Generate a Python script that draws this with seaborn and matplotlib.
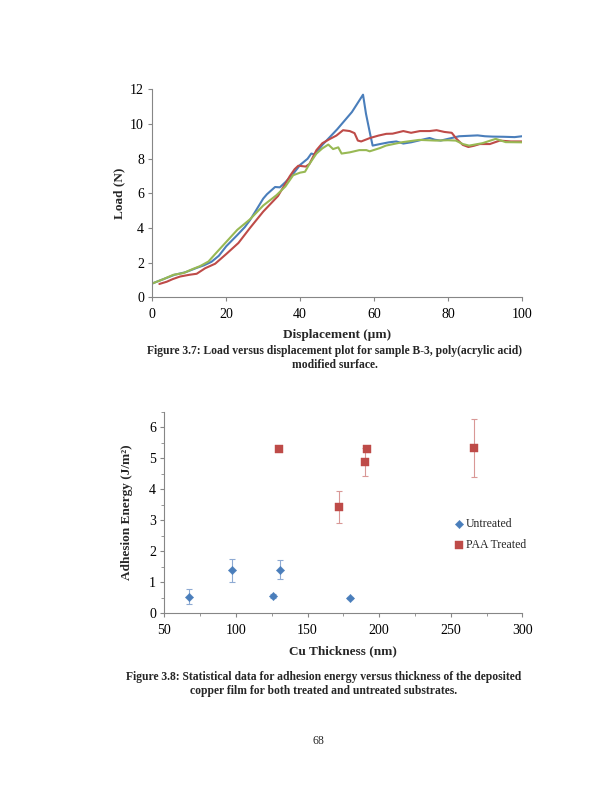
import matplotlib
matplotlib.use("Agg")
import matplotlib.pyplot as plt
from matplotlib.ticker import MultipleLocator
import seaborn as sns
import pandas as pd

# Figure 3.7 load vs displacement, three runs
blue_x = [0, 3, 6, 9, 12, 14, 16, 18, 20, 23, 25, 26.4, 28, 30, 31, 33.2, 34.5, 36, 38, 40, 42,
          43, 44, 46, 50, 54, 57, 57.8, 58.9, 59.6, 61.6, 64, 66, 67.9, 70, 73, 75, 76.4, 78, 80,
          83, 86, 88, 90, 92, 95, 98, 100]
blue_y = [0.8, 1.05, 1.3, 1.45, 1.7, 1.85, 2.05, 2.4, 2.95, 3.6, 4.05, 4.45, 5.0, 5.7, 5.95, 6.37,
          6.35, 6.65, 7.1, 7.65, 8.0, 8.3, 8.25, 8.8, 9.7, 10.7, 11.7, 10.6, 9.45, 8.76, 8.85, 8.95,
          9.0, 8.88, 8.95, 9.1, 9.2, 9.1, 9.05, 9.15, 9.3, 9.33, 9.35, 9.3, 9.28, 9.27, 9.25, 9.3]

red_x = [1.9, 3.9, 5.5, 7.5, 10, 12, 14.3, 17, 20, 23.3, 26.4, 30, 34, 37.2, 38.5, 39.5, 41.5,
         42.5, 44.4, 46, 48, 49.8, 51.6, 53.4, 54.7, 55.6, 56.5, 58.9, 61.2, 63.3, 65, 67.9, 70,
         72.4, 75, 76.9, 79, 81, 82.3, 84, 85.5, 87, 88.6, 91.3, 94, 97, 100]
red_y = [0.77, 0.9, 1.05, 1.2, 1.3, 1.36, 1.68, 1.94, 2.5, 3.14, 4.0, 4.95, 5.85, 7.0, 7.4, 7.6,
         7.55, 7.7, 8.5, 8.9, 9.14, 9.34, 9.65, 9.6, 9.48, 9.05, 9.0, 9.2, 9.34, 9.44, 9.45, 9.6,
         9.5, 9.6, 9.6, 9.65, 9.55, 9.5, 9.15, 8.8, 8.68, 8.75, 8.85, 8.85, 9.05, 9.0, 9.0]

green_x = [0, 3, 5.7, 8.4, 11, 12.9, 15.2, 17, 20, 23, 26.4, 30, 33.6, 36, 38.1, 40, 41.3, 42.5,
           44.4, 46, 47.6, 48.9, 50.3, 51.2, 53.4, 56, 57.9, 58.8, 61.6, 63.2, 67.7, 72.2, 76.7,
           80, 82.1, 84, 85.7, 89.3, 92.9, 95.6, 100]
green_y = [0.8, 1.05, 1.3, 1.4, 1.64, 1.8, 2.07, 2.5, 3.2, 3.9, 4.5, 5.3, 5.9, 6.4, 7.05, 7.2,
           7.25, 7.7, 8.3, 8.6, 8.82, 8.56, 8.66, 8.3, 8.37, 8.5, 8.5, 8.43, 8.62, 8.76, 8.96,
           9.09, 9.05, 9.07, 9.05, 8.85, 8.76, 8.9, 9.15, 8.96, 8.95]

# Figure 3.8 adhesion energy vs Cu thickness
untreated_x = [67.5, 97, 126, 131, 179.7]
untreated_y = [0.54, 1.39, 0.55, 1.41, 0.50]
untreated_err = [0.25, 0.37, 0.07, 0.30, 0.03]

paa_x = [129.8, 171.7, 189.9, 191.8, 266.2]
paa_y = [5.30, 3.44, 4.89, 5.29, 5.33]
paa_err = [0.04, 0.52, 0.45, 0.08, 0.93]

BLUE = "#4a7ebb"
RED = "#be4b48"
GREEN = "#98b954"
AXIS = "#868686"

sns.set_style("white")
plt.rcParams["font.family"] = ["Liberation Serif", "DejaVu Serif"]
plt.rcParams["axes.edgecolor"] = AXIS
plt.rcParams["xtick.color"] = AXIS
plt.rcParams["ytick.color"] = AXIS
plt.rcParams["xtick.labelcolor"] = "black"
plt.rcParams["ytick.labelcolor"] = "black"

fig = plt.figure(figsize=(6.12, 7.92), dpi=100)


def style_axes(ax):
    sns.despine(ax=ax)
    for side in ("left", "bottom"):
        ax.spines[side].set_linewidth(0.8)
    ax.tick_params(axis="both", which="major", direction="out", length=3, width=0.8,
                   labelsize=10, left=True, bottom=True)
    ax.tick_params(axis="x", pad=5)
    ax.tick_params(axis="y", pad=3)


# ---- top chart ----
ax1 = fig.add_axes([0.2489, 0.6246, 0.604, 0.2624])
for xs, ys, c in [(blue_x, blue_y, BLUE), (red_x, red_y, RED), (green_x, green_y, GREEN)]:
    df = pd.DataFrame({"x": xs, "y": ys})
    sns.lineplot(data=df, x="x", y="y", ax=ax1, color=c, linewidth=1.5, sort=False,
                 estimator=None)
ax1.set_xlim(0, 100)
ax1.set_ylim(0, 12)
ax1.set_xticks(range(0, 101, 20))
ax1.set_yticks(range(0, 13, 2))
style_axes(ax1)
ax1.set_xlabel("Displacement (µm)", fontsize=9.5, fontweight="bold", va="center")
ax1.xaxis.set_label_coords(0.5, -0.181)
ax1.set_ylabel("Load (N)", fontsize=9.5, fontweight="bold", va="center")
ax1.yaxis.set_label_coords(-0.090, 0.5)

fig.text(0.547, 0.557, "Figure 3.7: Load versus displacement plot for sample B-3, poly(acrylic acid)",
         ha="center", va="center", fontsize=8.4, fontweight="bold")
fig.text(0.547, 0.539, "modified surface.", ha="center", va="center", fontsize=8.4,
         fontweight="bold")

# ---- bottom chart ----
ax2 = fig.add_axes([0.2685, 0.2256, 0.585, 0.2545])
ax2.errorbar(untreated_x, untreated_y, yerr=untreated_err, fmt="none", ecolor="#8eaad3",
             elinewidth=0.8, capsize=2, capthick=0.8, zorder=2)
ax2.errorbar(paa_x, paa_y, yerr=paa_err, fmt="none", ecolor="#d99896",
             elinewidth=0.8, capsize=2, capthick=0.8, zorder=2)
sns.scatterplot(x=untreated_x, y=untreated_y, ax=ax2, marker="D", s=18, color=BLUE,
                edgecolor=BLUE, linewidth=0.3, label="Untreated", zorder=3)
sns.scatterplot(x=paa_x, y=paa_y, ax=ax2, marker="s", s=30, color=RED,
                edgecolor=RED, linewidth=0.3, label="PAA Treated", zorder=3)
ax2.set_xlim(50, 300)
ax2.set_ylim(0, 6.5)
ax2.set_xticks(range(50, 301, 50))
ax2.set_yticks(range(0, 7))
ax2.xaxis.set_minor_locator(MultipleLocator(25))
ax2.yaxis.set_minor_locator(MultipleLocator(0.5))
style_axes(ax2)
ax2.tick_params(axis="both", which="minor", direction="out", length=2, width=0.6,
                left=True, bottom=True)
ax2.set_xlabel("Cu Thickness (nm)", fontsize=9.5, fontweight="bold", va="center")
ax2.xaxis.set_label_coords(0.5, -0.19)
ax2.set_ylabel("Adhesion Energy (J/m²)", fontsize=9.5, fontweight="bold", va="center")
ax2.yaxis.set_label_coords(-0.103, 0.5)
ax2.legend(loc="center left", bbox_to_anchor=(0.79, 0.39), frameon=False, fontsize=8.5,
           handletextpad=0.0, labelspacing=0.75, borderaxespad=0, handlelength=1.2)

fig.text(0.529, 0.145, "Figure 3.8: Statistical data for adhesion energy versus thickness of the deposited",
         ha="center", va="center", fontsize=8.4, fontweight="bold")
fig.text(0.529, 0.128, "copper film for both treated and untreated substrates.",
         ha="center", va="center", fontsize=8.4, fontweight="bold")

fig.text(0.52, 0.064, "68", ha="center", va="center", fontsize=8.6)

fig.savefig("out.png", dpi=100)
